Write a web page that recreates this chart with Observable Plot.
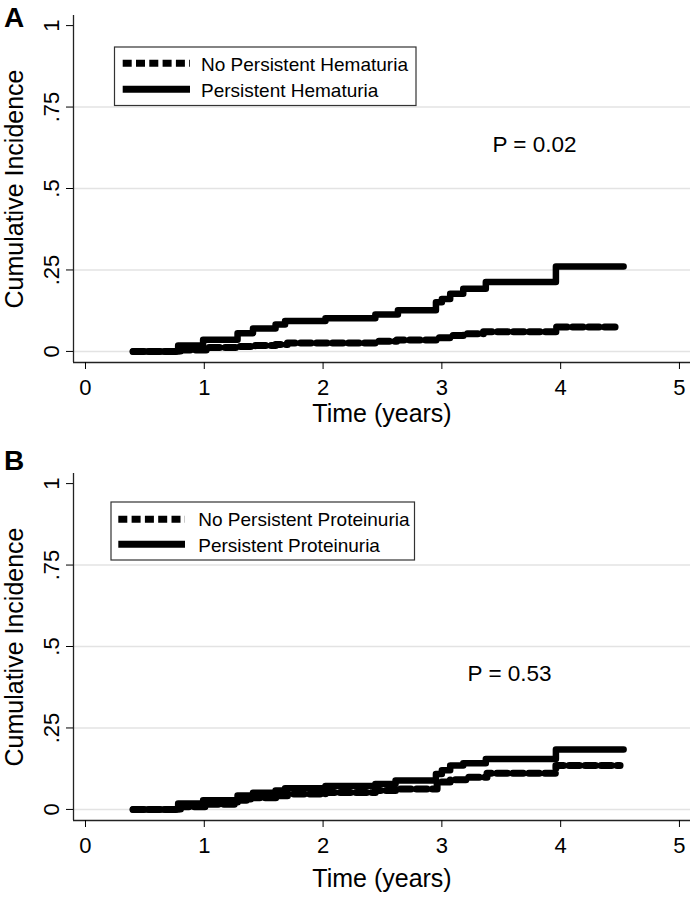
<!DOCTYPE html>
<html><head><meta charset="utf-8">
<script src="https://cdn.jsdelivr.net/npm/d3@7"></script>
<script src="https://cdn.jsdelivr.net/npm/@observablehq/plot@0.6"></script>
<style>
body{margin:0;background:#fff;}
#root{position:relative;width:693px;height:903px;font-family:"Liberation Sans",Arial,sans-serif;background:#fff;}
.panel{position:relative;width:693px;}
.panel svg{display:block;}
#overlay{position:absolute;left:0;top:0;pointer-events:none;}
</style></head><body><div id="root"><div id="pa" class="panel"></div><div id="pb" class="panel"></div></div>
<script>
// ---- shared axis values ----
const xTicks = [0, 1, 2, 3, 4, 5];
const yTicks = [0, 0.25, 0.5, 0.75, 1];
const gridTicks = [0, 0.25, 0.5, 0.75];
const xTitle = "Time (years)";
const yTitle = "Cumulative Incidence";

// ---- Panel A: hematuria ----
const aNoLabel = "No Persistent Hematuria";
const aNoTime = [0.40, 0.80, 1.03, 1.27, 1.43, 1.60, 1.70, 2.44, 2.62, 2.96, 3.07, 3.18, 3.35, 3.96, 4.48];
const aNoInc  = [0, 0.004, 0.012, 0.015, 0.018, 0.021, 0.026, 0.031, 0.035, 0.042, 0.049, 0.054, 0.060, 0.075, 0.075];
const aYesLabel = "Persistent Hematuria";
const aYesTime = [0.40, 0.78, 0.99, 1.28, 1.41, 1.60, 1.68, 2.02, 2.44, 2.63, 2.95, 3.00, 3.07, 3.18, 3.37, 3.96, 4.53];
const aYesInc  = [0, 0.018, 0.036, 0.056, 0.070, 0.083, 0.093, 0.102, 0.113, 0.126, 0.151, 0.161, 0.177, 0.192, 0.213, 0.261, 0.261];
const aP = [{t: 3.78, v: 0.633, label: "P = 0.02"}];

// ---- Panel B: proteinuria ----
const bNoLabel = "No Persistent Proteinuria";
const bNoTime = [0.40, 0.80, 1.03, 1.28, 1.39, 1.62, 1.70, 2.02, 2.44, 2.61, 2.96, 3.07, 3.21, 3.38, 3.96, 4.50];
const bNoInc  = [0, 0.008, 0.016, 0.028, 0.036, 0.042, 0.047, 0.052, 0.058, 0.063, 0.084, 0.091, 0.099, 0.111, 0.135, 0.135];
const bYesLabel = "Persistent Proteinuria";
const bYesTime = [0.40, 0.78, 0.99, 1.28, 1.41, 1.60, 1.68, 2.02, 2.44, 2.61, 2.95, 3.00, 3.07, 3.18, 3.37, 3.96, 4.53];
const bYesInc  = [0, 0.018, 0.028, 0.043, 0.051, 0.058, 0.065, 0.072, 0.078, 0.089, 0.109, 0.120, 0.135, 0.142, 0.155, 0.184, 0.184];
const bP = [{t: 3.57, v: 0.416, label: "P = 0.53"}];

const xDomain = [-0.101, 5.093];
const yDomain = [-0.034, 1.031];
const fmt = d => d === 0 ? "0" : d === 1 ? "1" : String(d).replace(/^0/, "");
const zip = (T, V) => T.map((t, i) => ({t, v: V[i]}));

function panel({height, marginBottom, noT, noV, yesT, yesV, note, xTitleDy}) {
  return Plot.plot({
    width: 693, height,
    marginLeft: 73, marginRight: 3, marginTop: 15, marginBottom,
    x: {domain: xDomain},
    y: {domain: yDomain},
    style: {fontFamily: '"Liberation Sans", Arial, sans-serif', color: "#000", background: "#fff", overflow: "visible"},
    marks: [
      Plot.gridY(gridTicks, {stroke: "#e3e3e3", strokeOpacity: 1, strokeWidth: 1.5}),
      Plot.ruleX([xDomain[0]], {stroke: "#222", strokeWidth: 1.3}),
      Plot.ruleY([yDomain[0]], {stroke: "#222", strokeWidth: 1.3}),
      Plot.axisX({ticks: xTicks, tickSize: 7, tickPadding: 10, fontSize: 22, label: null, tickFormat: d => String(d)}),
      Plot.axisY({ticks: yTicks, tickSize: 7, tickPadding: 8, tickRotate: -90, fontSize: 22, label: null, tickFormat: fmt}),
      Plot.line(zip(noT, noV), {x: "t", y: "v", curve: "step-after", stroke: "#000", strokeWidth: 7, strokeDasharray: "10.5,5.5"}),
      Plot.line(zip(yesT, yesV), {x: "t", y: "v", curve: "step-after", stroke: "#000", strokeWidth: 6.5, strokeLinecap: "round", strokeLinejoin: "round"}),
      Plot.text(note, {x: "t", y: "v", text: "label", fontSize: 22.5}),
      Plot.text([yTitle], {frameAnchor: "left", textAnchor: "middle", dx: -59, rotate: -90, fontSize: 25}),
      Plot.text([xTitle], {frameAnchor: "bottom", textAnchor: "middle", dy: xTitleDy, fontSize: 25})
    ]
  });
}

document.getElementById("pa").append(panel({height: 458, marginBottom: 96, noT: aNoTime, noV: aNoInc, yesT: aYesTime, yesV: aYesInc, note: aP, xTitleDy: 59}));
document.getElementById("pb").append(panel({height: 445, marginBottom: 83, noT: bNoTime, noV: bNoInc, yesT: bYesTime, yesV: bYesInc, note: bP, xTitleDy: 66}));

// ---- overlay: panel letters and in-plot legends ----
const ns = "http://www.w3.org/2000/svg";
const ov = document.createElementNS(ns, "svg");
ov.setAttribute("id", "overlay");
ov.setAttribute("width", 693); ov.setAttribute("height", 903);
ov.setAttribute("font-family", '"Liberation Sans", Arial, sans-serif');
function el(tag, attrs, text) {
  const e = document.createElementNS(ns, tag);
  for (const k in attrs) e.setAttribute(k, attrs[k]);
  if (text != null) e.textContent = text;
  ov.append(e);
  return e;
}
el("text", {x: 4, y: 27, "font-size": 28, "font-weight": "bold"}, "A");
el("text", {x: 4, y: 470, "font-size": 28, "font-weight": "bold"}, "B");
function legend(box, sw, tx, rows, labels) {
  el("rect", {x: box[0], y: box[1], width: box[2], height: box[3], fill: "#fff", stroke: "#333", "stroke-width": 1.2});
  el("line", {x1: sw[0], x2: sw[1], y1: rows[0], y2: rows[0], stroke: "#000", "stroke-width": 7, "stroke-dasharray": "9,4.3"});
  el("line", {x1: sw[0], x2: sw[1], y1: rows[1], y2: rows[1], stroke: "#000", "stroke-width": 7});
  el("text", {x: tx, y: rows[2], "font-size": 19}, labels[0]);
  el("text", {x: tx, y: rows[3], "font-size": 19}, labels[1]);
}
legend([114.5, 47, 301.5, 58.5], [122.7, 190], 201, [63.3, 89.3, 70.7, 96.7], [aNoLabel, aYesLabel]);
legend([111, 502, 303.5, 58], [118.3, 185], 198.3, [519.3, 544.3, 526, 551.7], [bNoLabel, bYesLabel]);
document.getElementById("root").append(ov);
</script></body></html>
